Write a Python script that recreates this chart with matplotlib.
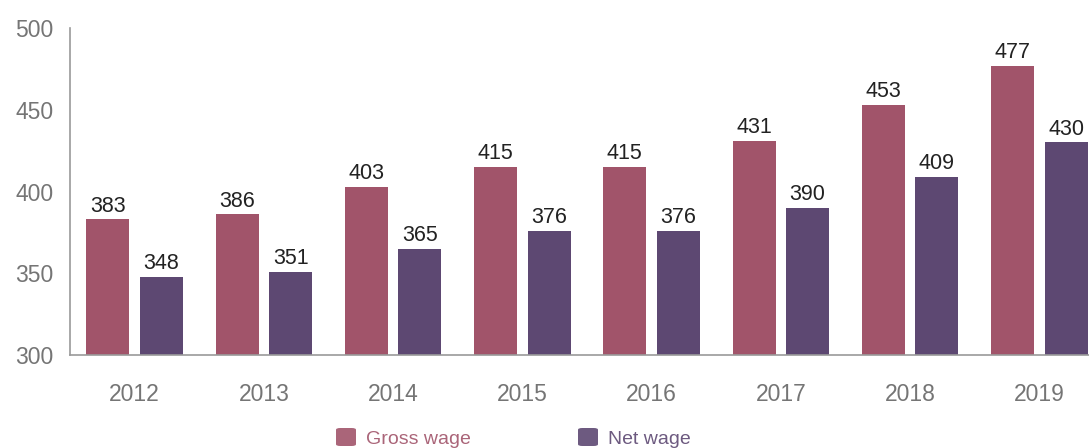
import matplotlib.pyplot as plt
from matplotlib.patches import FancyBboxPatch
import numpy as np

plt.rcParams['font.family'] = ['Liberation Sans', 'DejaVu Sans']

years = ['2012', '2013', '2014', '2015', '2016', '2017', '2018', '2019']
gross = [383, 386, 403, 415, 415, 431, 453, 477]
net = [348, 351, 365, 376, 376, 390, 409, 430]

gross_col = '#a1546a'
net_col = '#5d4872'

fig = plt.figure(figsize=(10.89, 4.48), dpi=100)
# axes runs past the right edge on purpose, the reference is cropped there
ax = fig.add_axes([70 / 1089, 93 / 448, 1034 / 1089, 327 / 448])

x = np.arange(len(years))
w = 0.333
off = 0.207
b1 = ax.bar(x - off, np.array(gross) - 300, w, bottom=300, color=gross_col)
b2 = ax.bar(x + off, np.array(net) - 300, w, bottom=300, color=net_col)

for bars, vals in ((b1, gross), (b2, net)):
    for r, v in zip(bars, vals):
        ax.annotate(str(v), (r.get_x() + r.get_width() / 2, v),
                    xytext=(0, 2), textcoords='offset points',
                    ha='center', va='bottom', fontsize=15.5, color='#222222')

ax.set_xlim(-0.5, 7.5)
ax.set_ylim(300, 500)
ax.set_yticks([300, 350, 400, 450, 500])
ax.set_xticks(x)
ax.set_xticklabels(years)
ax.tick_params(axis='both', length=0, labelsize=16.5, colors='#757575')
ax.tick_params(axis='x', pad=20)
ax.tick_params(axis='y', pad=12)
for s in ['top', 'right']:
    ax.spines[s].set_visible(False)
for s in ['left', 'bottom']:
    ax.spines[s].set_color('#9a9a9a')
    ax.spines[s].set_linewidth(1.2)

# legend at the bottom
legend_items = [('Gross wage', gross_col, 336), ('Net wage', net_col, 578)]
for label, col, px in legend_items:
    sq = FancyBboxPatch((px / 1089, 2 / 448), 20 / 1089, 18 / 448,
                        boxstyle='round,pad=0,rounding_size=0.004',
                        transform=fig.transFigure, facecolor=col,
                        edgecolor='none', alpha=0.9)
    fig.patches.append(sq)
    fig.text((px + 30) / 1089, 9 / 448, label, fontsize=14, color=col,
             alpha=0.9, ha='left', va='center')

fig.savefig('out.png', dpi=100)
